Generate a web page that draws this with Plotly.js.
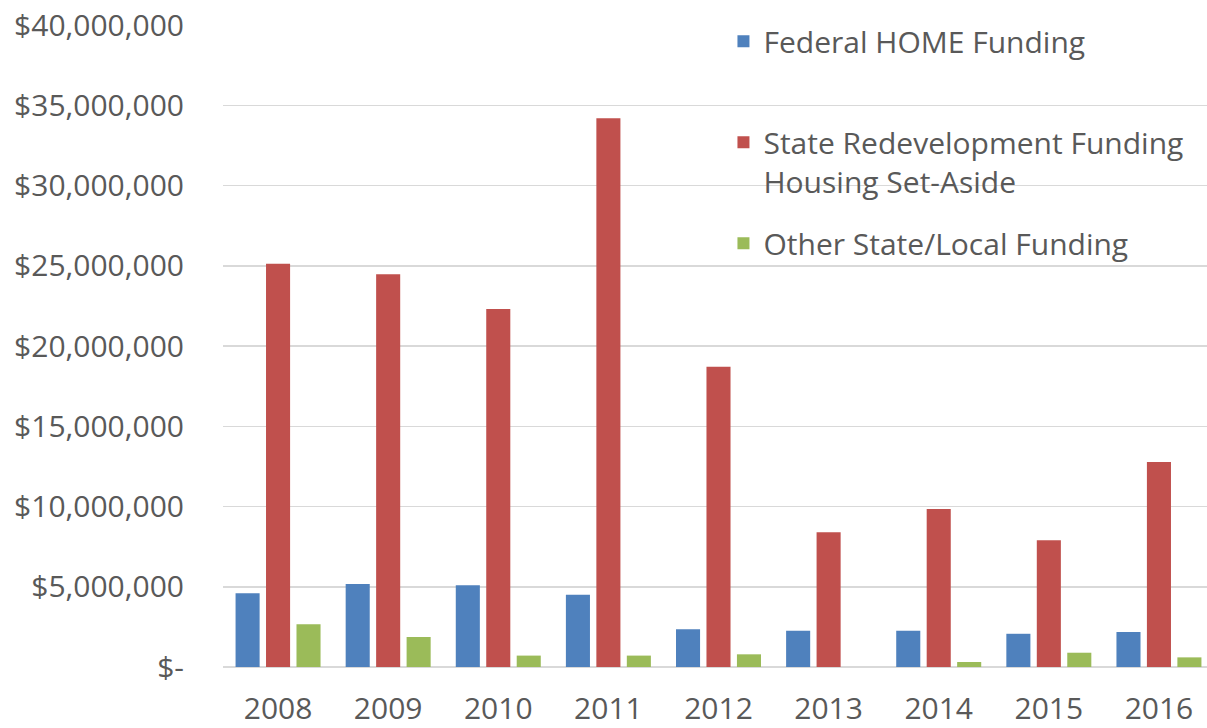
<!DOCTYPE html>
<html>
<head>
<meta charset="utf-8">
<script src="https://cdn.plot.ly/plotly-3.0.1.min.js"></script>
<style>
html,body{margin:0;padding:0;overflow:hidden;background:#fff;}
#chart{width:1214px;height:728px;}
</style>
</head>
<body>
<div id="chart"></div>
<script>
const years = ['2008','2009','2010','2011','2012','2013','2014','2015','2016'];
const federalHome = [4590000, 5170000, 5090000, 4500000, 2350000, 2260000, 2260000, 2070000, 2180000];
const stateRedevelopment = [25130000, 24470000, 22300000, 34190000, 18700000, 8400000, 9840000, 7900000, 12770000];
const otherStateLocal = [2660000, 1870000, 710000, 710000, 790000, 0, 310000, 890000, 600000];
const seriesNames = ['Federal HOME Funding<br> ', 'State Redevelopment Funding<br>Housing Set-Aside', 'Other State/Local Funding'];
const seriesColors = ['#4F81BD', '#C0504D', '#9BBB59'];
const yTickVals = [0, 5000000, 10000000, 15000000, 20000000, 25000000, 30000000, 35000000, 40000000];
const yTickText = ['$-', '$5,000,000', '$10,000,000', '$15,000,000', '$20,000,000', '$25,000,000', '$30,000,000', '$35,000,000', '$40,000,000'];

const allSeries = [federalHome, stateRedevelopment, otherStateLocal];
const traces = allSeries.map((vals, i) => ({
  type: 'bar',
  x: years,
  y: vals,
  name: seriesNames[i],
  legendgroup: 'g' + i,
  marker: {color: seriesColors[i], line: {width: 0}},
  hoverinfo: 'x+y+name'
}));

const fontFamily = '"Open Sans", sans-serif';
const layout = {
  width: 1214, height: 728,
  margin: {l: 223, r: 0, t: 25, b: 61},
  paper_bgcolor: '#ffffff', plot_bgcolor: '#ffffff',
  font: {family: fontFamily, size: 30, color: '#595959'},
  barmode: 'group',
  bargap: 0.17,
  bargroupgap: 0.21,
  showlegend: true,
  legend: {
    x: 0.505, xanchor: 'left', y: 1.015, yanchor: 'top',
    bgcolor: 'rgba(0,0,0,0)',
    font: {family: fontFamily, size: 30, color: '#595959'},
    valign: 'top',
    traceorder: 'grouped',
    tracegroupgap: 20
  },
  xaxis: {
    type: 'category',
    showgrid: false,
    showline: false,
    zeroline: false,
    ticks: '',
    ticklabelstandoff: 21,
    tickfont: {family: fontFamily, size: 30, color: '#595959'}
  },
  yaxis: {
    range: [0, 40000000],
    tickvals: yTickVals,
    ticktext: yTickText,
    showgrid: true,
    gridcolor: '#d9d9d9',
    gridwidth: 1.5,
    zeroline: true,
    zerolinecolor: '#d9d9d9',
    zerolinewidth: 1.5,
    showline: false,
    ticks: '',
    ticklabelstandoff: 38,
    tickfont: {family: fontFamily, size: 30, color: '#595959'}
  }
};

Plotly.newPlot('chart', traces, layout, {displayModeBar: false, staticPlot: true});
</script>
</body>
</html>
